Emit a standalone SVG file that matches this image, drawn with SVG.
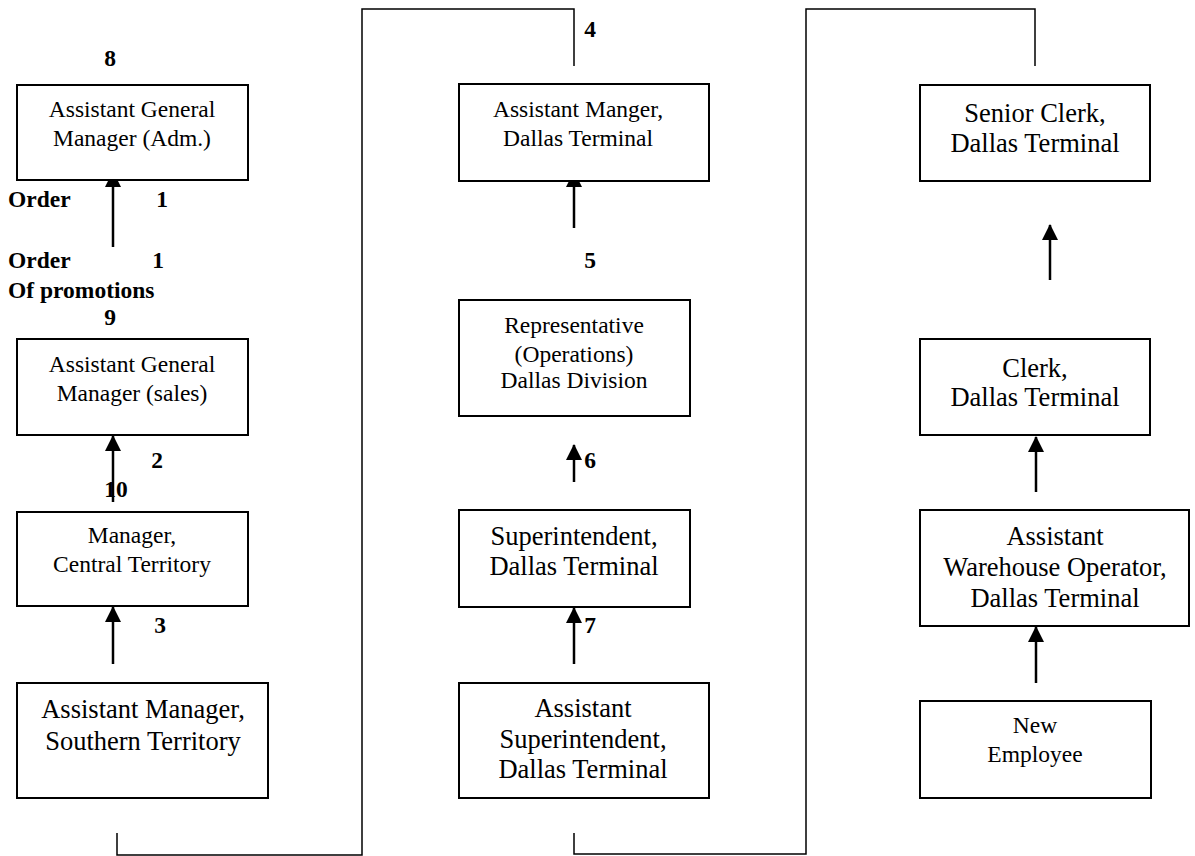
<svg xmlns="http://www.w3.org/2000/svg" width="1195" height="856" viewBox="0 0 1195 856">
<style>
.box{fill:#fff;stroke:#000;stroke-width:2}
.t{font-family:"Liberation Serif","Times New Roman",serif;font-size:23.5px;fill:#000;text-anchor:middle}
.tl{font-family:"Liberation Serif","Times New Roman",serif;font-size:26.5px;fill:#000;text-anchor:middle}
.lb{font-family:"Liberation Serif","Times New Roman",serif;font-size:23.5px;font-weight:bold;fill:#000}
.lbc{font-family:"Liberation Serif","Times New Roman",serif;font-size:23.5px;font-weight:bold;fill:#000;text-anchor:middle}
.arr{stroke:#000;stroke-width:2.5;fill:none;marker-end:url(#ah)}
.con{stroke:#000;stroke-width:1.5;fill:none}
</style>
<defs>
<marker id="ah" viewBox="0 0 16 16" refX="15" refY="8" markerWidth="16" markerHeight="16" markerUnits="userSpaceOnUse" orient="auto"><path d="M0,0 L16,8 L0,16 z" fill="#000"/></marker>
</defs>
<rect width="1195" height="856" fill="#fff"/>

<g id="connectors">
<line class="arr" x1="113" y1="247" x2="113" y2="172"/>
<line class="arr" x1="113" y1="502" x2="113" y2="436"/>
<line class="arr" x1="113" y1="664" x2="113" y2="607"/>
<polyline class="con" points="117,833 117,855 362,855 362,9 574,9 574,66"/>
<line class="arr" x1="574" y1="228" x2="574" y2="172"/>
<line class="arr" x1="574" y1="482" x2="574" y2="445"/>
<line class="arr" x1="574" y1="664" x2="574" y2="608"/>
<polyline class="con" points="574,833 574,854 806,854 806,9 1035,9 1035,66"/>
<line class="arr" x1="1050" y1="280" x2="1050" y2="225"/>
<line class="arr" x1="1036" y1="492" x2="1036" y2="437"/>
<line class="arr" x1="1036" y1="683" x2="1036" y2="627"/>
</g>

<g id="labels">
<text class="lbc" x="110" y="66">8</text>
<text class="lb" x="8" y="207">Order</text>
<text class="lbc" x="162" y="207">1</text>
<text class="lb" x="8" y="268">Order</text>
<text class="lbc" x="158" y="268">1</text>
<text class="lb" x="8" y="298">Of promotions</text>
<text class="lbc" x="110" y="325">9</text>
<text class="lbc" x="157" y="468">2</text>
<text class="lbc" x="116" y="497">10</text>
<text class="lbc" x="160" y="633">3</text>
<text class="lbc" x="590" y="37">4</text>
<text class="lbc" x="590" y="268">5</text>
<text class="lbc" x="590" y="468">6</text>
<text class="lbc" x="590" y="633">7</text>
</g>

<g id="agm-adm">
<rect class="box" x="17" y="85" width="231" height="95"/>
<text class="t" x="132" y="117">Assistant General</text>
<text class="t" x="132" y="146">Manager (Adm.)</text>
</g>
<g id="agm-sales">
<rect class="box" x="17" y="339" width="231" height="96"/>
<text class="t" x="132" y="372">Assistant General</text>
<text class="t" x="132" y="401">Manager (sales)</text>
</g>
<g id="mgr-central">
<rect class="box" x="17" y="512" width="231" height="94"/>
<text class="t" x="132" y="543">Manager,</text>
<text class="t" x="132" y="572">Central Territory</text>
</g>
<g id="asst-mgr-southern">
<rect class="box" x="17" y="683" width="251" height="115"/>
<text class="tl" x="143" y="718">Assistant Manager,</text>
<text class="tl" x="143" y="750">Southern Territory</text>
</g>

<g id="asst-mgr-dallas">
<rect class="box" x="459" y="84" width="250" height="97"/>
<text class="t" x="578" y="117">Assistant Manger,</text>
<text class="t" x="578" y="146">Dallas Terminal</text>
</g>
<g id="rep-ops">
<rect class="box" x="459" y="300" width="231" height="116"/>
<text class="t" x="574" y="333">Representative</text>
<text class="t" x="574" y="362">(Operations)</text>
<text class="t" x="574" y="388">Dallas Division</text>
</g>
<g id="superintendent">
<rect class="box" x="459" y="510" width="231" height="97"/>
<text class="tl" x="574" y="545">Superintendent,</text>
<text class="tl" x="574" y="575">Dallas Terminal</text>
</g>
<g id="asst-superintendent">
<rect class="box" x="459" y="683" width="250" height="115"/>
<text class="tl" x="583" y="717">Assistant</text>
<text class="tl" x="583" y="748">Superintendent,</text>
<text class="tl" x="583" y="778">Dallas Terminal</text>
</g>

<g id="senior-clerk">
<rect class="box" x="920" y="85" width="230" height="96"/>
<text class="tl" x="1035" y="122">Senior Clerk,</text>
<text class="tl" x="1035" y="152">Dallas Terminal</text>
</g>
<g id="clerk">
<rect class="box" x="920" y="339" width="230" height="96"/>
<text class="tl" x="1035" y="377">Clerk,</text>
<text class="tl" x="1035" y="406">Dallas Terminal</text>
</g>
<g id="asst-warehouse">
<rect class="box" x="920" y="510" width="269" height="116"/>
<text class="tl" x="1055" y="545">Assistant</text>
<text class="tl" x="1055" y="576">Warehouse Operator,</text>
<text class="tl" x="1055" y="607">Dallas Terminal</text>
</g>
<g id="new-employee">
<rect class="box" x="920" y="701" width="231" height="97"/>
<text class="t" x="1035" y="733">New</text>
<text class="t" x="1035" y="762">Employee</text>
</g>
</svg>
